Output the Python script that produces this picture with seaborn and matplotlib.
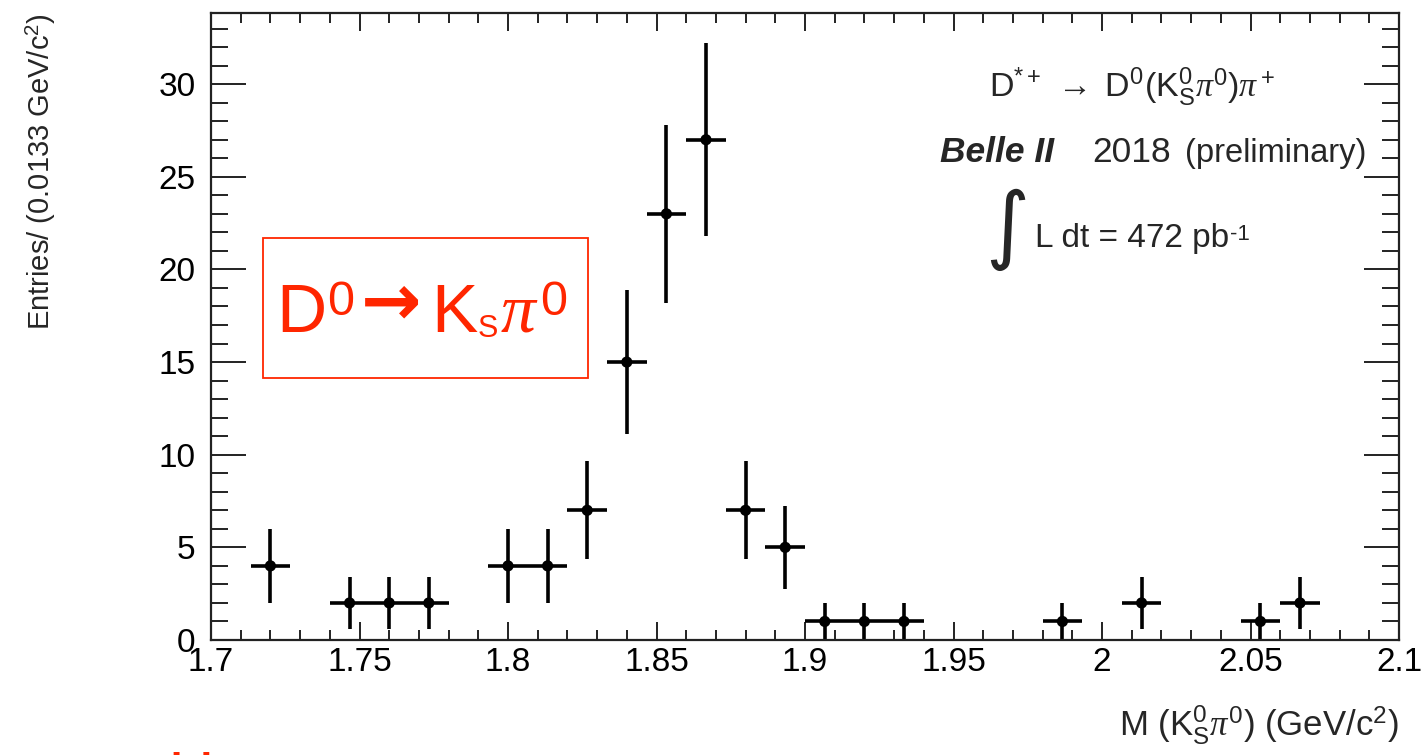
import numpy as np
import pandas as pd
import seaborn as sns
import matplotlib.pyplot as plt
from matplotlib.ticker import MultipleLocator, FuncFormatter
from matplotlib.patches import Rectangle

# histogram: 30 bins of 0.0133 GeV/c^2 between 1.7 and 2.1
x_low, x_high, n_bins = 1.7, 2.1, 30
counts = [0, 4, 0, 2, 2, 2, 0, 4, 4, 7,
          15, 23, 27, 7, 5, 1, 1, 1, 0, 0,
          0, 1, 0, 2, 0, 0, 1, 2, 0, 0]

width = (x_high - x_low) / n_bins
centers = x_low + width * (np.arange(n_bins) + 0.5)
data = pd.DataFrame({"mass": centers, "entries": counts})
data = data[data["entries"] > 0]
data["err"] = np.sqrt(data["entries"])

#%%
sns.set_style("ticks")
plt.rcParams['font.family'] = ['Liberation Sans', 'DejaVu Sans']
plt.rcParams['mathtext.fontset'] = 'custom'
plt.rcParams['mathtext.rm'] = 'Liberation Sans'
plt.rcParams['mathtext.it'] = 'Liberation Serif:italic'
plt.rcParams['mathtext.bf'] = 'Liberation Sans:bold'

W, H = 1427, 755
fig = plt.figure(figsize=(W/100, H/100), dpi=100)
ax = fig.add_axes([211/W, 115/H, 1188/W, 627/H])

ax.errorbar(data["mass"], data["entries"], xerr=width/2, yerr=data["err"],
            fmt='none', ecolor='black', elinewidth=2.6, capsize=0, zorder=2)
sns.scatterplot(data=data, x="mass", y="entries", ax=ax, color='black',
                s=65, edgecolor='none', zorder=3, legend=False)

ax.set_xlim(x_low, x_high)
ax.set_ylim(0, 33.84)
ax.xaxis.set_major_locator(MultipleLocator(0.05))
ax.xaxis.set_minor_locator(MultipleLocator(0.01))
ax.yaxis.set_major_locator(MultipleLocator(5))
ax.yaxis.set_minor_locator(MultipleLocator(1))
ax.xaxis.set_major_formatter(FuncFormatter(lambda v, p: '%g' % round(v, 3)))

ax.tick_params(which='both', direction='in', top=True, right=True,
               width=1.4, colors='#222222', labelcolor='black')
ax.tick_params(axis='x', which='major', length=13, labelsize=24, pad=5)
ax.tick_params(axis='x', which='minor', length=7)
ax.tick_params(axis='y', which='major', length=25, labelsize=24, pad=11)
ax.tick_params(axis='y', which='minor', length=12)
for s in ax.spines.values():
    s.set_linewidth(1.6)
    s.set_color('#222222')

ax.set_xlabel(r"M ($\mathrm{K^0_S}\pi^0$) (GeV/c$^2$)", fontsize=25, loc='right')
ax.xaxis.label.set_va('baseline')
ax.xaxis.set_label_coords(1.0, -0.1515)
ax.set_ylabel(r"Entries/ (0.0133 GeV/c$^2$)", fontsize=21, loc='top')
ax.yaxis.set_label_coords(-0.1285, 1.0)

# labels in the top right corner
ax.text(0.655, 0.866, r"$\mathrm{D^{*+}}\ \rightarrow\ \mathrm{D^0(K^0_S}\pi^0\mathrm{)}\pi^+$",
        transform=ax.transAxes, ha='left', va='baseline', fontsize=24.5)
ax.text(0.614, 0.762, "Belle II", transform=ax.transAxes, ha='left', va='baseline',
        fontsize=25.5, fontweight='bold', fontstyle='italic')
ax.text(0.742, 0.762, "2018", transform=ax.transAxes, ha='left', va='baseline', fontsize=25.5)
ax.text(0.820, 0.762, "(preliminary)", transform=ax.transAxes, ha='left', va='baseline',
        fontsize=23.5)
ax.text(0.652, 0.655, "\u222b", transform=ax.transAxes, ha='left', va='center',
        fontsize=61, family='DejaVu Sans')
lum = ax.text(0.694, 0.627, "L dt = 472 pb", transform=ax.transAxes,
              ha='left', va='baseline', fontsize=24)
ax.annotate("-1", xy=(1.0, 1.0), xycoords=lum, xytext=(0.5, -1),
            textcoords='offset points', ha='left', va='top', fontsize=16)

# red box overlay, placed in picture pixels
red = '#ff2600'
def px(x, y):
    return x / W, 1 - y / H

fig.add_artist(Rectangle(px(263, 378), 325/W, 140/H, transform=fig.transFigure,
                         fill=False, edgecolor=red, linewidth=1.3, zorder=5))
box_txt = dict(color=red, ha='left', va='baseline', zorder=6)
fig.text(*px(276, 332), "D", fontsize=50, **box_txt)
fig.text(*px(327, 315), "0", fontsize=35, **box_txt)
fig.text(*px(361, 325), "\u2192", fontsize=52, family='DejaVu Sans', fontweight='bold', **box_txt)
fig.text(*px(431, 332), "K", fontsize=50, **box_txt)
fig.text(*px(478, 337), "S", fontsize=22, **box_txt)
fig.text(*px(501, 332), "\u03c0", fontsize=50, family='Liberation Serif', fontstyle='italic', **box_txt)
fig.text(*px(540, 315), "0", fontsize=35, **box_txt)

# text of the next slide line, cut by the bottom edge
fig.text(12/W, -0.0545, "ca to H", color=red, fontsize=46, ha='left', va='baseline')

fig.savefig("out.png", dpi=100)
